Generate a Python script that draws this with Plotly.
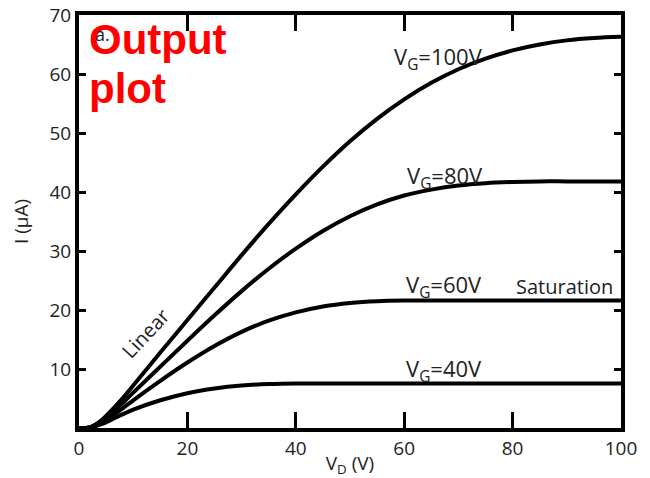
import plotly.graph_objects as go

vd = [0, 2, 4, 6, 8, 10, 15, 20, 25, 30, 35, 40, 45, 50, 55, 60, 65, 70, 75, 80, 85, 90, 95, 100]
i_vg100 = [0, 0.1, 1.2, 3.0, 5.0, 7.2, 12.8, 18.3, 23.8, 29.3, 34.6, 39.6, 44.3, 48.6, 52.4, 55.7, 58.5, 60.8, 62.6, 64.0, 65.0, 65.7, 66.1, 66.3]
i_vg80 = [0, 0.1, 1.0, 2.5, 4.2, 6.0, 10.4, 14.8, 19.1, 23.2, 27.0, 30.4, 33.4, 35.9, 37.9, 39.4, 40.4, 41.1, 41.5, 41.7, 41.8, 41.8, 41.8, 41.8]
i_vg60 = [0, 0.1, 0.8, 2.0, 3.3, 4.7, 8.0, 11.1, 13.9, 16.3, 18.2, 19.6, 20.6, 21.2, 21.5, 21.6, 21.6, 21.6, 21.6, 21.6, 21.6, 21.6, 21.6, 21.6]
i_vg40 = [0, 0.1, 0.6, 1.4, 2.3, 3.1, 4.7, 5.9, 6.7, 7.2, 7.45, 7.55, 7.55, 7.55, 7.55, 7.55, 7.55, 7.55, 7.55, 7.55, 7.55, 7.55, 7.55, 7.55]
series = [("V_G=100V", i_vg100), ("V_G=80V", i_vg80), ("V_G=60V", i_vg60), ("V_G=40V", i_vg40)]

x_ticks = [0, 20, 40, 60, 80, 100]
y_ticks = [10, 20, 30, 40, 50, 60, 70]

# label positions (data coords)
vg_labels = [("V<sub>G</sub>=100V", 66.3, 62.7), ("V<sub>G</sub>=80V", 67.6, 42.5),
             ("V<sub>G</sub>=60V", 67.3, 24.0), ("V<sub>G</sub>=40V", 67.3, 9.8)]

FONT = "Open Sans"
TXT = "#222"

# page body has an 8px margin: the figure is shrunk so the plot lands where the reference has it
OFF = 8
W, H = 650 - OFF, 478 - OFF
PL, PR, PT, PB = 79 - OFF, 621 - OFF, 15 - OFF, 428 - OFF

fig = go.Figure()
for name, ys in series:
    fig.add_trace(go.Scatter(x=vd, y=ys, mode="lines", name=name,
                             line=dict(color="black", width=4, shape="spline", smoothing=1.0),
                             showlegend=False))

ann = []
for txt, x, y in vg_labels:
    ann.append(dict(x=x, y=y, xref="x", yref="y", text=txt, showarrow=False,
                    font=dict(family=FONT, size=22, color=TXT)))
ann.append(dict(x=89.6, y=23.9, xref="x", yref="y", text="Saturation", showarrow=False,
                font=dict(family=FONT, size=20, color=TXT)))
ann.append(dict(x=12.2, y=16.1, xref="x", yref="y", text="Linear", showarrow=False, textangle=-47,
                font=dict(family=FONT, size=20, color=TXT)))


def px2paper(px, py):
    return (px - 79) / (621 - 79), (428 - py) / (428 - 15)


for txt, px, py in [("<b>Output</b>", 87, 40), ("<b>plot</b>", 87, 89)]:
    xp, yp = px2paper(px, py)
    ann.append(dict(x=xp, y=yp, xref="paper", yref="paper", text=txt, showarrow=False,
                    xanchor="left", yanchor="middle",
                    font=dict(family="Liberation Sans", size=42, color="#ff0000")))
ann.append(dict(x=2.6, y=66.7, xref="x", yref="y", text="a.", showarrow=False, xanchor="left",
                font=dict(family=FONT, size=18, color=TXT)))

fig.update_layout(
    width=W, height=H,
    margin=dict(l=PL, r=W - PR, t=PT, b=H - PB),
    paper_bgcolor="white", plot_bgcolor="white",
    annotations=ann,
    font=dict(family=FONT, size=19, color=TXT),
)
fig.update_xaxes(range=[0, 100], tickvals=x_ticks, ticks="inside", ticklen=16, tickwidth=3,
                 tickcolor="black", showline=True, linecolor="black", linewidth=4, mirror="ticks",
                 showgrid=False, zeroline=False, automargin=False, ticklabeloverflow="allow",
                 title=dict(text="V<sub>D</sub> (V)", standoff=2, font=dict(size=19)),
                 tickfont=dict(size=19))
fig.update_yaxes(range=[0, 70], tickvals=y_ticks, ticks="inside", ticklen=7, tickwidth=3,
                 tickcolor="black", showline=True, linecolor="black", linewidth=4, mirror="ticks",
                 showgrid=False, zeroline=False, automargin=False, ticklabeloverflow="allow",
                 title=dict(text="I (μA)", standoff=17, font=dict(size=19)),
                 tickfont=dict(size=19))

fig.write_html("out.html")
